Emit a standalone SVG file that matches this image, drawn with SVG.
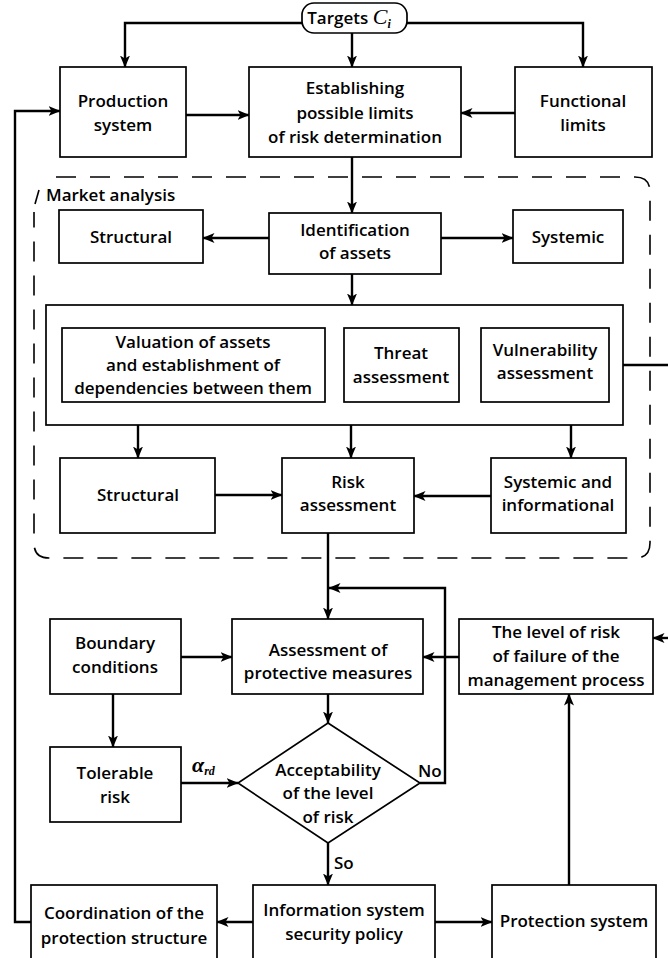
<svg xmlns="http://www.w3.org/2000/svg" width="668" height="958" viewBox="0 0 668 958">
<style>
.box{fill:#fff;stroke:#000;stroke-width:1.7}
.ln{fill:none;stroke:#000;stroke-width:2.4}
.arr{fill:none;stroke:#000;stroke-width:2.4;marker-end:url(#ah)}
.dash{fill:none;stroke:#000;stroke-width:1.6;stroke-dasharray:20 14}
text{font-family:"Open Sans","Noto Sans","DejaVu Sans",sans-serif;font-weight:600;font-size:17px;fill:#000;text-anchor:middle}
.math{font-family:"Liberation Serif","DejaVu Serif",serif;font-style:italic;font-weight:bold}
.mathn{font-family:"Liberation Serif","DejaVu Serif",serif;font-style:italic;font-weight:normal}
</style>
<defs>
<marker id="ah" viewBox="0 0 12 10" refX="11.5" refY="5" markerWidth="12" markerHeight="10" markerUnits="userSpaceOnUse" orient="auto">
<path d="M0,0 L12,5 L0,10 L3,5 z" fill="#000"/>
</marker>
</defs>
<rect width="668" height="958" fill="#fff"/>

<g id="market-analysis">
<path class="dash" d="M56,177 H635 Q650,177 650,192 V543 Q650,558 635,558 H49 Q34,558 34,543 V212"/>
<line x1="35" y1="204" x2="39" y2="190" stroke="#000" stroke-width="1.6"/>
<text x="46" y="201" style="text-anchor:start">Market analysis</text>
</g>

<g id="connectors">
<path class="arr" d="M302,23 H125 V67"/>
<path class="arr" d="M407,23 H583 V67"/>
<path class="arr" d="M352,33 V67"/>
<path class="arr" d="M186,115 H249"/>
<path class="arr" d="M515,113 H461"/>
<path class="arr" d="M31,922 H15 V111 H60"/>
<path class="arr" d="M352,157 V213"/>
<path class="arr" d="M269,238 H203"/>
<path class="arr" d="M441,238 H513"/>
<path class="arr" d="M352,274 V305"/>
<path class="ln" d="M623,365 H668"/>
<path class="arr" d="M138,425 V458"/>
<path class="arr" d="M351,425 V458"/>
<path class="arr" d="M571,425 V458"/>
<path class="arr" d="M215,495 H282"/>
<path class="arr" d="M491,496 H414"/>
<path class="arr" d="M328,533 V619"/>
<path class="arr" d="M420,783 H445 V588 H329"/>
<path class="arr" d="M181,657 H232"/>
<path class="arr" d="M459,657 H423"/>
<path class="arr" d="M668,638 H653"/>
<path class="arr" d="M328,694 V723"/>
<path class="arr" d="M113,694 V747"/>
<path class="arr" d="M181,783 H238"/>
<path class="arr" d="M328,843 V885"/>
<path class="arr" d="M253,922 H217"/>
<path class="arr" d="M435,922 H492"/>
<path class="arr" d="M569,885 V694"/>
<text class="math" x="192" y="772" style="text-anchor:start;font-size:22px">α<tspan font-size="12" dy="3">rd</tspan></text>
<text x="418" y="777" style="text-anchor:start">No</text>
<text x="334" y="869" style="text-anchor:start">So</text>
</g>

<g id="targets">
<rect class="box" x="302" y="3" width="105" height="30" rx="12"/>
<text x="349" y="24">Targets <tspan class="mathn" font-size="22">C</tspan><tspan class="math" font-size="12" dy="4">i</tspan></text>
</g>

<g id="production-system">
<rect class="box" x="60" y="67" width="126" height="90"/>
<text x="123" y="107">Production</text>
<text x="123" y="131">system</text>
</g>

<g id="establishing">
<rect class="box" x="249" y="67" width="212" height="90"/>
<text x="355" y="94">Establishing</text>
<text x="355" y="119">possible limits</text>
<text x="355" y="143">of risk determination</text>
</g>

<g id="functional-limits">
<rect class="box" x="515" y="67" width="137" height="90"/>
<text x="583" y="107">Functional</text>
<text x="583" y="131">limits</text>
</g>

<g id="structural-1">
<rect class="box" x="59" y="210" width="144" height="53"/>
<text x="131" y="243">Structural</text>
</g>

<g id="identification">
<rect class="box" x="269" y="213" width="172" height="61"/>
<text x="355" y="236">Identification</text>
<text x="355" y="259">of assets</text>
</g>

<g id="systemic">
<rect class="box" x="513" y="210" width="110" height="53"/>
<text x="568" y="243">Systemic</text>
</g>

<g id="assessment-group">
<rect class="box" x="46" y="305" width="577" height="120"/>
</g>

<g id="valuation">
<rect class="box" x="62" y="328" width="263" height="74"/>
<text x="193" y="348">Valuation of assets</text>
<text x="193" y="371">and establishment of</text>
<text x="193" y="394">dependencies between them</text>
</g>

<g id="threat">
<rect class="box" x="344" y="328" width="115" height="74"/>
<text x="401" y="359">Threat</text>
<text x="401" y="383">assessment</text>
</g>

<g id="vulnerability">
<rect class="box" x="481" y="328" width="128" height="74"/>
<text x="545" y="356">Vulnerability</text>
<text x="545" y="379">assessment</text>
</g>

<g id="structural-2">
<rect class="box" x="60" y="458" width="155" height="75"/>
<text x="138" y="501">Structural</text>
</g>

<g id="risk-assessment">
<rect class="box" x="282" y="458" width="132" height="75"/>
<text x="348" y="488">Risk</text>
<text x="348" y="511">assessment</text>
</g>

<g id="systemic-informational">
<rect class="box" x="491" y="458" width="135" height="75"/>
<text x="558" y="488">Systemic and</text>
<text x="558" y="511">informational</text>
</g>

<g id="boundary-conditions">
<rect class="box" x="50" y="619" width="131" height="75"/>
<text x="115" y="649">Boundary</text>
<text x="115" y="673">conditions</text>
</g>

<g id="assessment-protective">
<rect class="box" x="232" y="619" width="191" height="75"/>
<text x="328" y="656">Assessment of</text>
<text x="328" y="679">protective measures</text>
</g>

<g id="level-of-risk">
<rect class="box" x="459" y="619" width="194" height="75"/>
<text x="556" y="638">The level of risk</text>
<text x="556" y="662">of failure of the</text>
<text x="556" y="686">management process</text>
</g>

<g id="tolerable-risk">
<rect class="box" x="50" y="747" width="131" height="75"/>
<text x="115" y="779">Tolerable</text>
<text x="115" y="803">risk</text>
</g>

<g id="acceptability">
<polygon class="box" points="328,723 420,783 328,843 238,783"/>
<text x="328" y="776">Acceptability</text>
<text x="328" y="799">of the level</text>
<text x="328" y="823">of risk</text>
</g>

<g id="coordination">
<rect class="box" x="31" y="885" width="186" height="90"/>
<text x="124" y="919">Coordination of the</text>
<text x="124" y="944">protection structure</text>
</g>

<g id="security-policy">
<rect class="box" x="253" y="885" width="182" height="90"/>
<text x="344" y="916">Information system</text>
<text x="344" y="940">security policy</text>
</g>

<g id="protection-system">
<rect class="box" x="492" y="885" width="164" height="90"/>
<text x="574" y="927">Protection system</text>
</g>
</svg>
